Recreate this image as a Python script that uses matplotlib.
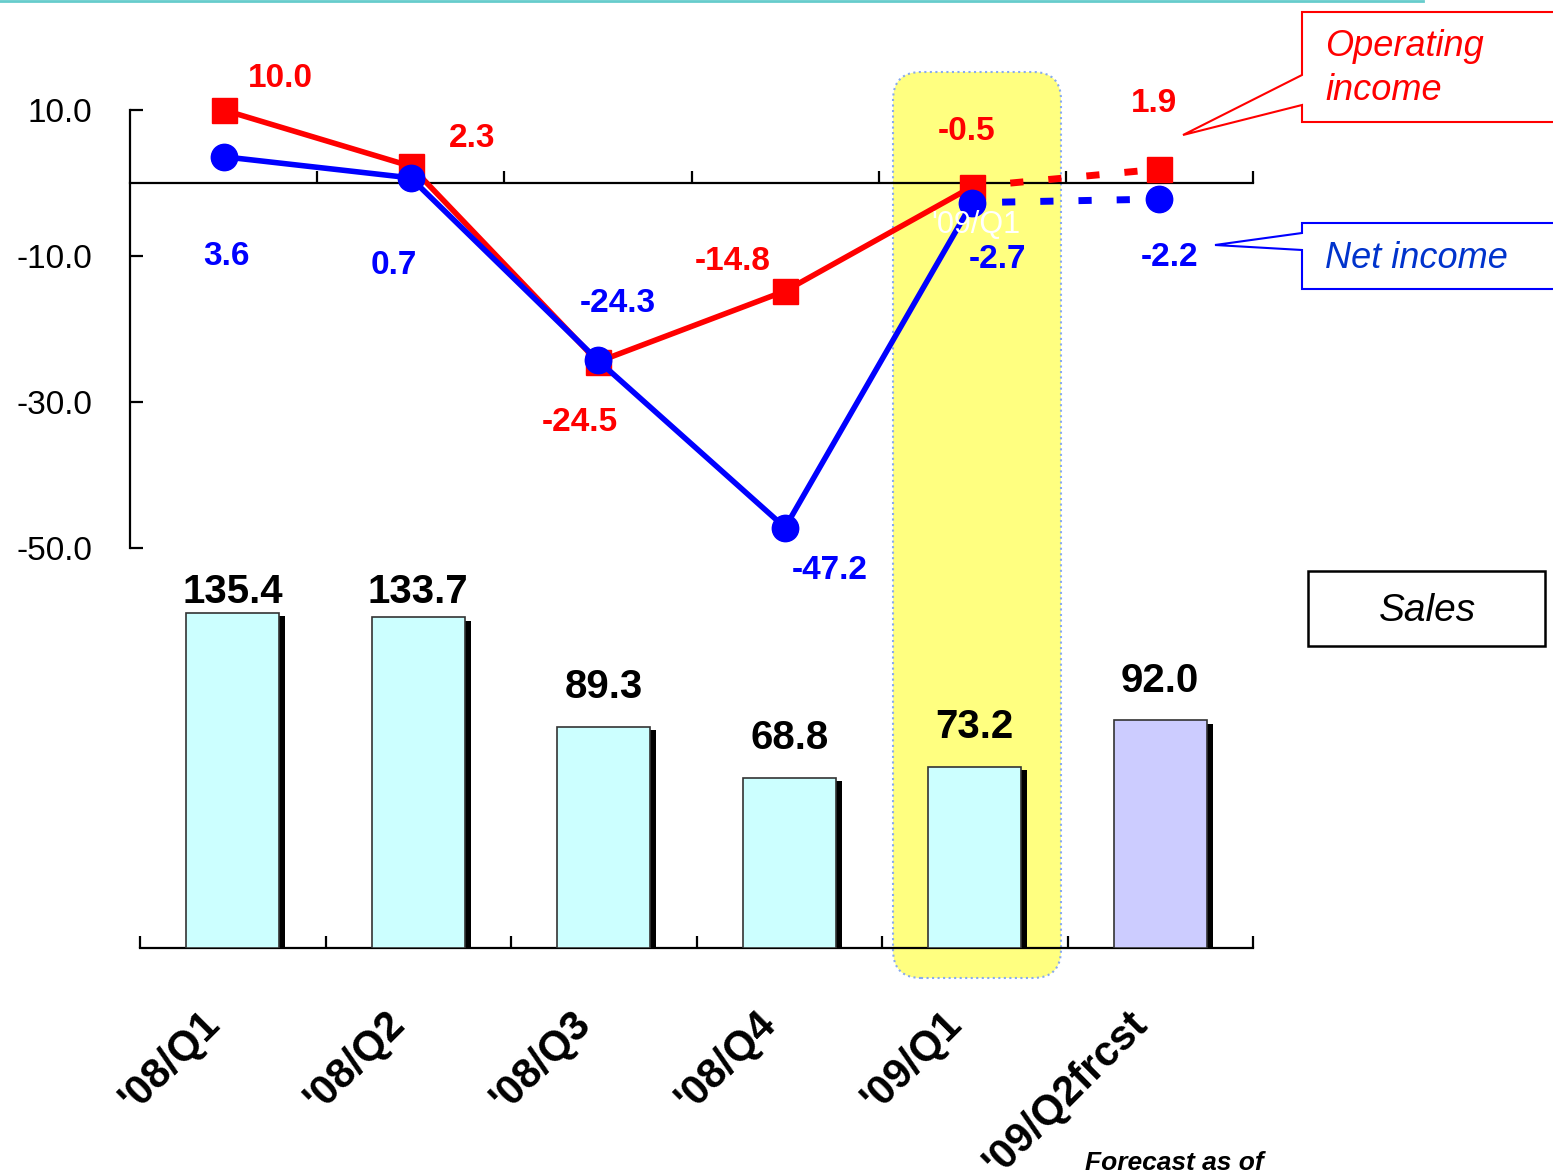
import matplotlib
matplotlib.use("Agg")
import matplotlib.pyplot as plt
import matplotlib.patheffects as pe
from matplotlib.patches import FancyBboxPatch, Polygon, Rectangle
from matplotlib.lines import Line2D

plt.rcParams['font.family'] = ['Liberation Sans', 'DejaVu Sans']

quarters = ["'08/Q1", "'08/Q2", "'08/Q3", "'08/Q4", "'09/Q1", "'09/Q2frcst"]
sales = [135.4, 133.7, 89.3, 68.8, 73.2, 92.0]
operating_income = [10.0, 2.3, -24.5, -14.8, -0.5, 1.9]
net_income = [3.6, 0.7, -24.3, -47.2, -2.7, -2.2]
income_ticks = [10.0, -10.0, -30.0, -50.0]

RED = '#FF0000'
BLUE = '#0000FF'
W, H = 1553, 1173

fig = plt.figure(figsize=(W / 100, H / 100), dpi=100)
fig.patch.set_facecolor('white')
tr = fig.dpi_scale_trans


def px(x, y):
    # pixel position (from top-left) -> inches for dpi_scale_trans
    return x / 100, (H - y) / 100


# highlighted quarter
x0, y0 = px(893, 978)
hl = FancyBboxPatch((x0, y0), 168 / 100, 906 / 100,
                    boxstyle='round,pad=0,rounding_size=0.28',
                    transform=tr, facecolor='#FFFF80', edgecolor='#88AAEE',
                    linestyle=':', linewidth=1.5, zorder=-1)
fig.patches.append(hl)

# thin rule along the top edge
fig.lines.append(Line2D([0, 14.23], [H / 100 - 0.01] * 2, transform=tr,
                        color='#66CCCC', lw=2))

# ---- sales bars ----
axb = fig.add_axes([140 / W, 1 - 948 / H, 1113 / W, 396 / H])
axb.set_facecolor('none')
xs = list(range(len(quarters)))
colors = ['#CCFFFF'] * 5 + ['#CCCCFF']
bars = axb.bar(xs, sales, width=0.5, color=colors, edgecolor='#333333',
               linewidth=1.2, zorder=3)
for b in bars:
    b.set_path_effects([pe.SimplePatchShadow(offset=(4.3, -2.5),
                                             shadow_rgbFace='black', alpha=1),
                        pe.Normal()])
for i, v in enumerate(sales):
    axb.text(i, min(v + 16, 144), f'{v:.1f}', ha='center', va='center',
             fontsize=29, fontweight='bold', color='black', zorder=5)
axb.set_xlim(-0.5, 5.5)
axb.set_ylim(0, 160)
for s in ['left', 'right', 'top']:
    axb.spines[s].set_visible(False)
axb.spines['bottom'].set_linewidth(1.6)
axb.set_yticks([])
axb.set_xticks([])
axb.set_xticks([i - 0.5 for i in range(7)], minor=True)
axb.tick_params(axis='x', which='minor', direction='in', length=9, width=1.6)
for i, q in enumerate(quarters):
    axb.annotate(q, (i, 0), xytext=(-24, -40), textcoords='offset points',
                 rotation=45, rotation_mode='anchor', ha='right', va='top',
                 fontsize=30, fontweight='bold', color='black',
                 annotation_clip=False)

# ---- income lines ----
axl = fig.add_axes([130 / W, 1 - 548 / H, 1123 / W, 438 / H])
axl.set_facecolor('none')
axl.set_xlim(-0.5, 5.5)
axl.set_ylim(-50, 10)
axl.spines['right'].set_visible(False)
axl.spines['top'].set_visible(False)
axl.spines['bottom'].set_position(('data', 0))
axl.spines['bottom'].set_linewidth(1.6)
axl.spines['left'].set_linewidth(1.6)
axl.set_xticks([])
axl.set_xticks([i + 0.5 for i in range(6)], minor=True)
axl.tick_params(axis='x', which='minor', direction='in', length=9, width=1.6)
axl.set_yticks(income_ticks)
axl.set_yticklabels([f'{t:.1f}' for t in income_ticks])
axl.tick_params(axis='y', direction='in', length=9, width=1.6, pad=27,
                labelsize=24)

axl.plot(xs[:5], operating_income[:5], color=RED, lw=4, marker='s', ms=18,
         zorder=4, clip_on=False)
axl.plot(xs[4:], operating_income[4:], color=RED, lw=5,
         linestyle=(0, (1.9, 3.6)), dash_capstyle='butt', zorder=4,
         clip_on=False)
axl.plot(xs[5:], operating_income[5:], color=RED, marker='s', ms=18,
         lw=0, zorder=4, clip_on=False)
axl.plot(xs[:5], net_income[:5], color=BLUE, lw=4, marker='o', ms=19,
         zorder=5, clip_on=False)
axl.plot(xs[4:], net_income[4:], color=BLUE, lw=5,
         linestyle=(1.2, (1.9, 3.6)), dash_capstyle='butt', zorder=5,
         clip_on=False)
axl.plot(xs[5:], net_income[5:], color=BLUE, marker='o', ms=19,
         lw=0, zorder=5, clip_on=False)

oi_off = [(41, 23), (44, 20), (-13, -44), (-38, 21), (-4, 40), (-4, 47)]
ni_off = [(2, -72), (-12, -63), (14, 41), (32, -31), (18, -41), (7, -42)]
for i, v in enumerate(operating_income):
    axl.annotate(f'{v:.1f}', (i, v), xytext=oi_off[i],
                 textcoords='offset points', ha='center', va='center',
                 fontsize=24, fontweight='bold', color=RED,
                 annotation_clip=False, zorder=6)
for i, v in enumerate(net_income):
    axl.annotate(f'{v:.1f}', (i, v), xytext=ni_off[i],
                 textcoords='offset points', ha='center', va='center',
                 fontsize=24, fontweight='bold', color=BLUE,
                 annotation_clip=False, zorder=6)
axl.text(4.02, -5.8, "'09/Q1", color='white', fontsize=22, ha='center',
         va='center', zorder=7)

# ---- callout boxes ----
oi_box = [px(1560, 12), px(1302, 12), px(1302, 75), px(1183, 135),
          px(1302, 105), px(1302, 122), px(1560, 122)]
fig.patches.append(Polygon(oi_box, closed=False, transform=tr, fill=False,
                           edgecolor=RED, lw=1.5, zorder=10))
fig.text(1325 / W, 1 - 29 / H, 'Operating\nincome', color=RED, fontsize=26,
         style='italic', ha='left', va='top', linespacing=1.35)

ni_box = [px(1560, 223), px(1302, 223), px(1302, 233), px(1215, 245),
          px(1302, 250), px(1302, 289), px(1560, 289)]
fig.patches.append(Polygon(ni_box, closed=False, transform=tr, fill=False,
                           edgecolor=BLUE, lw=1.5, zorder=10))
fig.text(1325 / W, 1 - 258 / H, 'Net income', color='#0033CC', fontsize=26,
         style='italic', ha='left', va='center')

sx, sy = px(1308, 646)
fig.patches.append(Rectangle((sx, sy), 237 / 100, 75 / 100, transform=tr,
                             fill=False, edgecolor='black', lw=1.8, zorder=10))
fig.text(1428 / W, 1 - 611 / H, 'Sales', color='black', fontsize=28,
         style='italic', ha='center', va='center')

fig.text(1085 / W, 1 - 1151 / H, 'Forecast as of', color='black', fontsize=19,
         style='italic', fontweight='bold', ha='left', va='top')

fig.savefig('out.png', dpi=100)
